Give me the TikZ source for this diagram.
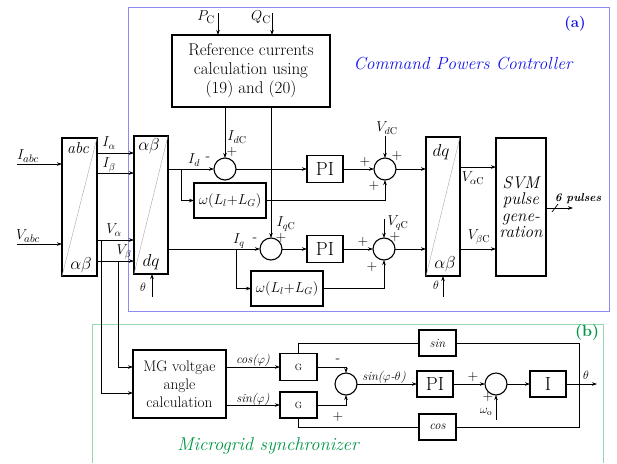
\documentclass[tikz,border=0pt]{standalone}
\usetikzlibrary{arrows.meta}
\definecolor{bframe}{RGB}{140,140,240}
\definecolor{btext}{RGB}{20,20,235}
\definecolor{gframe}{RGB}{150,215,175}
\definecolor{gtext}{RGB}{0,150,70}
\newcommand\myfs[1]{\fontsize{#1}{#1}\selectfont}
\begin{document}
\begin{tikzpicture}[x=1pt,y=-1pt,
  every node/.style={inner sep=0pt, outer sep=0pt},
  ln/.style={line width=0.7pt},
  arr/.style={ln,-{Stealth[length=5pt,width=3.5pt]}},
  blk/.style={draw, line width=1.2pt},
  tblk/.style={draw, line width=2.3pt},
  sumc/.style={circle, draw, line width=1.1pt, minimum size=22pt},
  diag/.style={line width=0.4pt, gray!70},
  lab/.style={font=\myfs{14.5}},
  sgn/.style={font=\myfs{14}},
]
\useasboundingbox (0,0) rectangle (617,463);
% frames
\draw[bframe, line width=0.8pt] (128,7) rectangle (609,311);
\draw[gframe, line width=0.8pt] (92,463) -- (92,324) -- (603,324) -- (603,463);
\node[btext, font=\myfs{15}\bfseries] at (575,24) {(a)};
\node[btext, font=\myfs{17.5}\itshape] at (463,64) {Command Powers Controller};
\node[gtext, font=\myfs{16}\bfseries] at (587,333) {(b)};
\node[gtext, font=\myfs{18.5}\itshape] at (268,446) {Microgrid synchronizer};

% transform blocks
\node[blk, minimum width=35pt, minimum height=138pt] (T1) at (79.5,207) {};
\draw[diag] (T1.south west) -- (T1.north east);
\node[font=\myfs{16}\itshape] at (78,148) {abc};
\node[font=\myfs{16}] at (81,265) {$\alpha\beta$};
\node[blk, minimum width=34pt, minimum height=138pt] (T2) at (151,205) {};
\draw[diag] (T2.south west) -- (T2.north east);
\node[font=\myfs{16}] at (149,146) {$\alpha\beta$};
\node[font=\myfs{17}] at (151,262) {$dq$};
\node[blk, minimum width=34pt, minimum height=139pt] (T3) at (443,206.5) {};
\draw[diag] (T3.south west) -- (T3.north east);
\node[font=\myfs{17}] at (441,152) {$dq$};
\node[font=\myfs{16}] at (445,264) {$\alpha\beta$};

% reference block
\node[tblk, minimum width=158pt, minimum height=72pt, align=center, font=\fontsize{17}{19}\selectfont] (REF) at (251,71) {Reference currents\\calculation using\\(19) and (20)};
\coordinate (pc) at (218,13);
\coordinate (qc) at (272,13);
\draw[arr] (pc) -- (pc |- REF.north);
\draw[arr] (qc) -- (qc |- REF.north);
\node[font=\myfs{15}] at (206,17) {$P_{\mathrm{C}}$};
\node[font=\myfs{15}] at (261,17) {$Q_{\mathrm{C}}$};

% row d
\node[sumc] (S1) at (225,169) {};
\node[tblk, minimum width=72pt, minimum height=35pt, font=\myfs{14.5}] (W1) at (230,200.5) {$\omega(L_l{+}L_G)$};
\node[blk, minimum width=36pt, minimum height=27pt, font=\myfs{19}] (PI1) at (325,169) {PI};
\node[sumc] (S3) at (385,169) {};
% row q
\node[sumc] (S2) at (271,249) {};
\node[tblk, minimum width=72pt, minimum height=35pt, font=\myfs{14.5}] (W2) at (287,288.5) {$\omega(L_l{+}L_G)$};
\node[blk, minimum width=36pt, minimum height=27pt, font=\myfs{19}] (PI2) at (325,249) {PI};
\node[sumc] (S4) at (384,249) {};

% SVM
\node[tblk, minimum width=50pt, minimum height=138pt, align=center, font=\fontsize{17}{16.5}\selectfont\itshape] (SVM) at (521,207) {SVM\\pulse\\gene-\\ration};

% left inputs
\coordinate (ia) at (17,164);
\coordinate (va) at (17,244);
\draw[arr] (ia) -- (ia -| T1.west);
\draw[arr] (va) -- (va -| T1.west);
\node[font=\myfs{15}] at (28,156) {$I_{abc}$};
\node[font=\myfs{15}] at (28,236) {$V_{abc}$};
\foreach \y in {153,173,240,261} \draw[arr] (T1.east |- 0,\y) -- (T2.west |- 0,\y);
\node[lab] at (109,143) {$I_\alpha$};
\node[lab] at (109,165) {$I_\beta$};
\node[lab] at (114,230) {$V_\alpha$};
\node[lab] at (124,252) {$V_\beta$};

% d row connectors
\coordinate (bd) at (181,169);
\draw[arr] (T2.east |- S1) -- (S1.west);
\draw[arr] (bd) |- (W1.west);
\draw[arr] (REF.south -| S1) -- (S1.north);
\draw[arr] (S1.east) -- (PI1.west);
\draw[arr] (PI1.east) -- (S3.west);
\draw[arr] (W1.east) -| (S3.south);
\coordinate (vdc) at (385,136);
\draw[arr] (vdc) -- (S3.north);
\draw[arr] (S3.east) -- (T3.west |- S3);
\node[lab] at (194,160) {$I_d$};
\node[sgn] at (208,159) {-};
\node[lab] at (237,137) {$I_{d\mathrm{C}}$};
\node[sgn] at (232,152) {+};
\node[lab] at (387,128) {$V_{d\mathrm{C}}$};
\node[sgn] at (397,156) {+};
\node[sgn] at (365,162) {+};
\node[sgn] at (374,186) {+};

% q row connectors
\coordinate (bq) at (236,249);
\draw[arr] (T2.east |- S2) -- (S2.west);
\draw[arr] (bq) |- (W2.west);
\draw[arr] (REF.south -| S2) -- (S2.north);
\draw[arr] (S2.east) -- (PI2.west);
\draw[arr] (PI2.east) -- (S4.west);
\draw[arr] (W2.east) -| (S4.south);
\coordinate (vqc) at (384,219);
\draw[arr] (vqc) -- (S4.north);
\draw[arr] (S4.east) -- (T3.west |- S4);
\node[lab] at (239,241) {$I_q$};
\node[sgn] at (255,240) {-};
\node[lab] at (286,224) {$I_{q\mathrm{C}}$};
\node[sgn] at (281,238) {+};
\node[lab] at (398,223) {$V_{q\mathrm{C}}$};
\node[sgn] at (395,237) {+};
\node[sgn] at (363,242) {+};
\node[sgn] at (372,267) {+};

% T3 -> SVM
\draw[arr] (T3.east |- 0,167) -- (SVM.west |- 0,167);
\draw[arr] (T3.east |- 0,249) -- (SVM.west |- 0,249);
\node[lab] at (473,178) {$V_{\alpha\mathrm{C}}$};
\node[lab] at (479,237) {$V_{\beta\mathrm{C}}$};
\coordinate (p6) at (573,208);
\draw[arr] (SVM.east |- p6) -- (p6);
\draw[ln] (552,212) -- (558,204);
\node[font=\myfs{11.5}\itshape\bfseries] at (578,199) {6 pulses};

% theta inputs
\coordinate (th1) at (152,297);
\coordinate (th2) at (443,297);
\draw[arr] (th1) -- (th1 |- T2.south);
\draw[arr] (th2) -- (th2 |- T3.south);
\node[font=\myfs{12}] at (143,287) {$\theta$};
\node[font=\myfs{12}] at (436,285) {$\theta$};

% synchronizer
\node[tblk, minimum width=93pt, minimum height=68pt, align=center, font=\fontsize{15.3}{18}\selectfont] (MG) at (179.5,384) {MG voltgae\\angle\\calculation};
\coordinate (ba) at (101,240);
\coordinate (bb) at (118,261);
\draw[arr, line width=1pt] (ba) |- (MG.west |- 0,393);
\draw[arr] (bb) |- (MG.west |- 0,367);
\node[blk, minimum width=37pt, minimum height=27pt, font=\myfs{9}] (G1) at (298.5,367) {G};
\node[blk, minimum width=37pt, minimum height=26pt, font=\myfs{9}] (G2) at (298.5,405) {G};
\node[sumc] (S5) at (346,384) {};
\node[blk, minimum width=36pt, minimum height=26pt, font=\myfs{19}] (PI3) at (435,384) {PI};
\node[sumc] (S6) at (496,384) {};
\node[blk, minimum width=36pt, minimum height=26pt, font=\myfs{19}] (IB) at (548,384) {I};
\node[blk, minimum width=37pt, minimum height=26pt, font=\myfs{12.5}\itshape] (SIN) at (437.5,343) {sin};
\node[blk, minimum width=37pt, minimum height=26pt, font=\myfs{12.5}\itshape] (COS) at (437.5,427) {cos};

\draw[arr] (MG.east |- G1) -- (G1.west);
\draw[arr] (MG.east |- G2) -- (G2.west);
\node[font=\myfs{12.5}\itshape] at (253,360) {cos($\varphi$)};
\node[font=\myfs{12.5}\itshape] at (253,399) {sin($\varphi$)};
\draw[arr] (G1.east) -| (S5.north);
\draw[arr] (G2.east) -| (S5.south);
\node[sgn] at (338,361) {-};
\node[sgn] at (338,417) {+};
\draw[arr] (S5.east) -- (PI3.west);
\node[font=\myfs{12.5}\itshape] at (384,377) {sin($\varphi$-$\theta$)};
\draw[arr] (PI3.east) -- (S6.west);
\node[sgn] at (473,377) {+};
\coordinate (wo) at (496,420);
\draw[arr] (wo) -- (S6.south);
\node[sgn] at (488,397) {+};
\node[font=\myfs{13}] at (486,412) {$\omega_{\mathrm{o}}$};
\draw[arr] (S6.east) -- (IB.west);
\coordinate (thout) at (597,384);
\draw[arr] (IB.east) -- (thout);
\node[font=\myfs{12}] at (586,375) {$\theta$};
\coordinate (fb) at (579,384);
\draw[ln] (fb) |- (SIN.east);
\draw[ln] (SIN.west) -| (G1.north);
\draw[ln] (fb) |- (COS.east);
\draw[ln] (COS.west) -| (G2.south);
\end{tikzpicture}
\end{document}
